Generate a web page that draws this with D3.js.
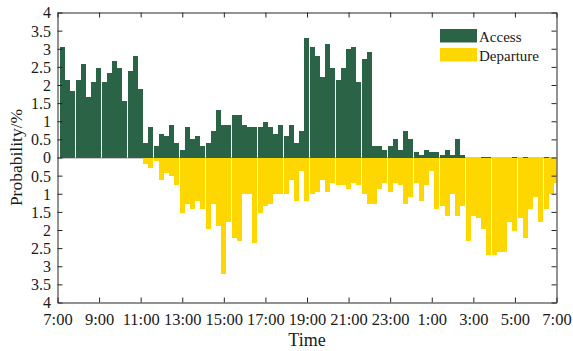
<!DOCTYPE html>
<html lang="en">
<head>
<meta charset="UTF-8">
<title>Access / Departure probability</title>
<script src="https://d3js.org/d3.v7.min.js"></script>
<style>
    body { margin: 0; padding: 0; background: #fff; overflow: hidden; }
    text { font-family: "Liberation Serif", "Times New Roman", serif; }
</style>
</head>
<body>
<svg id="chart" width="573" height="351"></svg>
<script>
    // one value per 15-minute slot, slot 1 = 7:00 ... slot 96 = 6:45 next day
    const accessValues = [
        3.06, 2.15, 1.83, 2.15, 2.57, 1.66, 2.07, 2.48, 2.07, 2.32, 2.65, 2.48,
        1.57, 2.40, 2.81, 1.90, 0.41, 0.83, 0.33, 0.66, 0.58, 0.91, 0.41, 0.22,
        0.83, 0.50, 0.58, 0.33, 0.41, 0.74, 1.32, 0.91, 0.91, 1.16, 1.16, 0.91,
        0.83, 0.83, 0.83, 0.99, 0.83, 0.66, 0.91, 0.58, 0.91, 0.41, 0.74, 3.31,
        3.06, 2.81, 2.23, 3.14, 2.48, 2.15, 2.48, 2.98, 3.06, 2.07, 2.73, 2.90,
        0.33, 0.33, 0.22, 0.33, 0.50, 0.22, 0.74, 0.50, 0.14, 0.06, 0.22, 0.14,
        0.14, 0.06, 0.22, 0.06, 0.50, 0.06, 0.00, 0.00, 0.00, 0.02, 0.02, 0.00,
        0.00, 0.00, 0.00, 0.02, 0.00, 0.02, 0.00, 0.00, 0.00, 0.02, 0.00, 0.00
    ];
    const departureValues = [
        0, 0, 0, 0, 0, 0, 0, 0, 0, 0, 0, 0,
        0, 0, 0, 0, 0.19, 0.28, 0.11, 0.61, 0.44, 0.52, 0.77, 1.52,
        1.27, 1.43, 1.19, 1.43, 1.96, 1.27, 1.88, 3.20, 1.77, 2.21, 2.29, 1.02,
        1.02, 2.37, 1.52, 1.35, 1.27, 1.02, 1.02, 1.02, 0.61, 1.19, 0.36, 1.19,
        1.02, 0.94, 0.61, 0.94, 0.69, 0.77, 0.77, 0.86, 0.69, 0.77, 1.02, 1.27,
        1.27, 0.86, 0.69, 0.94, 0.69, 0.77, 1.27, 1.10, 0.69, 1.19, 0.77, 0.36,
        1.43, 1.35, 1.60, 1.02, 1.60, 1.35, 2.29, 1.60, 1.68, 1.96, 2.70, 2.70,
        2.62, 2.62, 1.77, 2.04, 1.68, 2.21, 1.43, 1.10, 1.77, 1.43, 1.02, 0.69
    ];
    const seriesNames = ["Access", "Departure"];
    const seriesColors = ["#2b6347", "#ffd700"];
    const timeTickSlots = [0, 8, 16, 24, 32, 40, 48, 56, 64, 72, 80, 88, 96];
    const timeTickLabels = ["7:00", "9:00", "11:00", "13:00", "15:00", "17:00", "19:00",
                            "21:00", "23:00", "1:00", "3:00", "5:00", "7:00"];
    const probTicks = [-4, -3.5, -3, -2.5, -2, -1.5, -1, -0.5, 0, 0.5, 1, 1.5, 2, 2.5, 3, 3.5, 4];

    const AXIS_COLOR = "#262626";
    const TEXT_COLOR = "#1a1a1a";
    const width = 573, height = 351;
    const margin = { top: 12.5, right: 16.5, bottom: 48.5, left: 57.5 };
    const plotW = width - margin.left - margin.right;
    const plotH = height - margin.top - margin.bottom;

    const svg = d3.select("#chart");

    const x = d3.scaleLinear().domain([0, accessValues.length]).range([margin.left, margin.left + plotW]);
    const y = d3.scaleLinear().domain([-4, 4]).range([margin.top + plotH, margin.top]);
    const step = x(1) - x(0);

    svg.append("clipPath").attr("id", "plotClip")
        .append("rect")
        .attr("x", margin.left).attr("y", margin.top)
        .attr("width", plotW).attr("height", plotH);

    const plot = svg.append("g").attr("clip-path", "url(#plotClip)");

    // bar baseline
    plot.append("line")
        .attr("x1", margin.left).attr("x2", margin.left + plotW)
        .attr("y1", y(0) + 0.5).attr("y2", y(0) + 0.5)
        .attr("stroke", "#b8b8b8").attr("stroke-width", 1.5);

    // access goes up, departure goes down (slot i is centred on i)
    plot.append("g").selectAll("rect")
        .data(accessValues)
        .join("rect")
        .attr("x", (d, i) => x(i + 0.5))
        .attr("width", step - 0.2)
        .attr("y", d => y(d))
        .attr("height", d => y(0) - y(d))
        .attr("fill", seriesColors[0])
        .attr("shape-rendering", "crispEdges");

    plot.append("g").selectAll("rect")
        .data(departureValues)
        .join("rect")
        .attr("x", (d, i) => x(i + 0.5))
        .attr("width", step - 0.2)
        .attr("y", y(0))
        .attr("height", d => y(-d) - y(0))
        .attr("fill", seriesColors[1])
        .attr("shape-rendering", "crispEdges");

    const fmt = d3.format("~g");

    function styleAxis(g) {
        g.attr("font-size", 16).attr("font-family", null).style("color", AXIS_COLOR);
        g.select(".domain").attr("stroke-width", 1);
        g.selectAll("text").attr("fill", TEXT_COLOR);
    }

    svg.append("g")
        .attr("transform", `translate(0,${margin.top + plotH})`)
        .call(d3.axisBottom(x).tickValues(timeTickSlots)
            .tickFormat((d, i) => timeTickLabels[i])
            .tickSizeInner(-5).tickSizeOuter(0).tickPadding(10.5))
        .call(styleAxis)
        .attr("font-size", 16.5);

    svg.append("g")
        .attr("transform", `translate(0,${margin.top})`)
        .call(d3.axisTop(x).tickValues(timeTickSlots).tickFormat("")
            .tickSizeInner(-5).tickSizeOuter(0))
        .call(styleAxis);

    svg.append("g")
        .attr("transform", `translate(${margin.left},0)`)
        .call(d3.axisLeft(y).tickValues(probTicks)
            .tickFormat(d => fmt(Math.abs(d)))
            .tickSizeInner(-5).tickSizeOuter(0).tickPadding(6.5))
        .call(styleAxis)
        .selectAll("text").attr("dy", "0.34em");

    svg.append("g")
        .attr("transform", `translate(${margin.left + plotW},0)`)
        .call(d3.axisRight(y).tickValues(probTicks).tickFormat("")
            .tickSizeInner(-5).tickSizeOuter(0))
        .call(styleAxis);

    // axis titles
    svg.append("text")
        .attr("x", margin.left + plotW / 2)
        .attr("y", 345.5)
        .attr("text-anchor", "middle")
        .attr("font-size", 18)
        .attr("fill", TEXT_COLOR)
        .text("Time");

    svg.append("text")
        .attr("transform", `translate(22,${margin.top + plotH / 2}) rotate(-90)`)
        .attr("text-anchor", "middle")
        .attr("font-size", 17.5)
        .attr("fill", TEXT_COLOR)
        .text("Probability/%");

    // legend, top right inside the box
    const legend = svg.append("g").attr("transform", "translate(440,29)");
    seriesNames.forEach(function(name, i) {
        legend.append("rect")
            .attr("x", 0).attr("y", i * 19)
            .attr("width", 37).attr("height", 13.5)
            .attr("fill", seriesColors[i]);
        legend.append("text")
            .attr("x", 39).attr("y", i * 19 + 12.5)
            .attr("font-size", 15)
            .attr("fill", TEXT_COLOR)
            .text(name);
    });
</script>
</body>
</html>
